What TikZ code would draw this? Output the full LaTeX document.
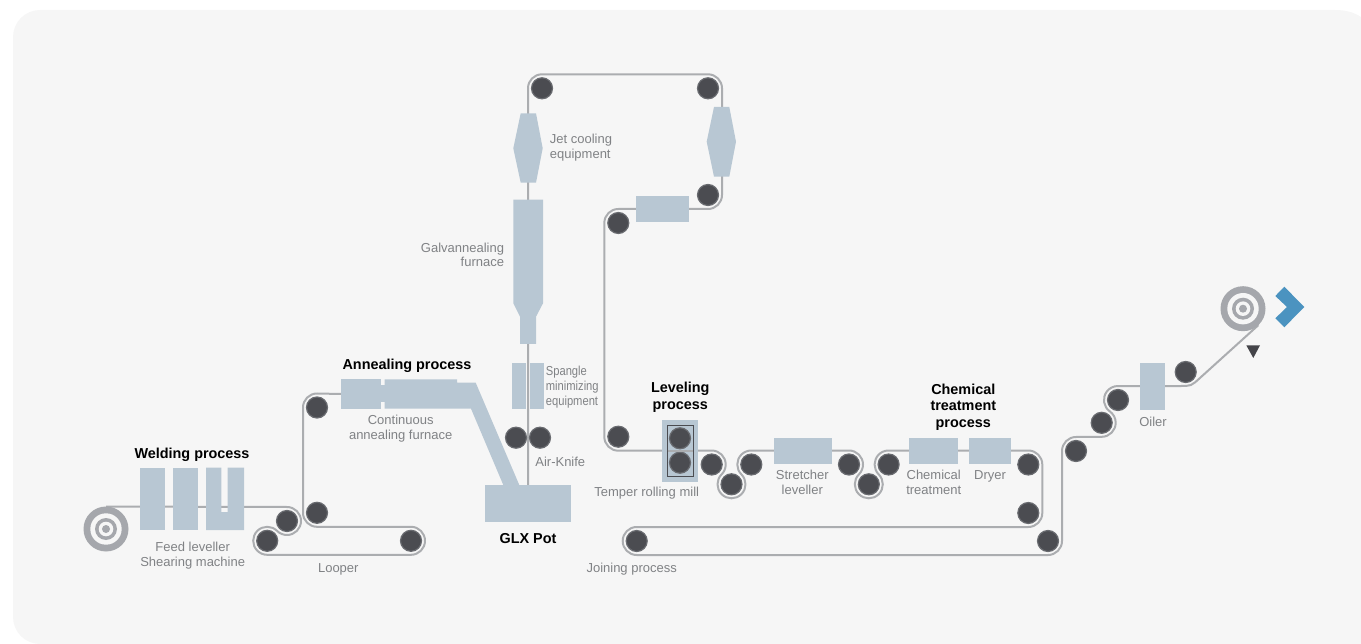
\documentclass[tikz,border=0pt]{standalone}
\usepackage{fontspec}
\setmainfont{Liberation Sans}
\usetikzlibrary{backgrounds}
\definecolor{panelcol}{HTML}{F6F6F6}
\definecolor{unitcol}{HTML}{B8C7D3}
\definecolor{stripcol}{HTML}{ABADB0}
\definecolor{rollcol}{HTML}{4B4C51}
\definecolor{ringcol}{HTML}{696B70}
\definecolor{coilcol}{HTML}{A5A7AC}
\definecolor{textcol}{HTML}{808285}
\definecolor{nextcol}{HTML}{4B93C0}
\tikzset{
  unit/.style={fill=unitcol,inner sep=0pt,outer sep=0pt},
  roller/.style={circle,fill=rollcol,draw=ringcol,line width=1.2pt,minimum size=21pt,inner sep=0pt,outer sep=3.5pt},
  coil/.style={circle,fill=coilcol,minimum size=45pt,inner sep=0pt,outer sep=0pt},
  strip/.style={draw=stripcol,line width=2pt,radius=14pt,line join=round},
  caption/.style={text=textcol,inner sep=0pt,yshift=-1.5pt,align=center,font=\fontsize{13}{14.8}\selectfont},
  heading/.style={text=black,inner sep=0pt,yshift=-1.5pt,align=center,font=\fontsize{14.4}{16.2}\selectfont\bfseries}
}
\begin{document}
\begin{tikzpicture}[x=1pt,y=1pt]
  \useasboundingbox (0,0) rectangle (1361,-644);
  \begin{scope}[on background layer]
    \fill[panelcol] (13,-37) arc[start angle=180,end angle=90,radius=27] -- (1335,-10)
      .. controls (1347,-10) and (1355,-13) .. (1361,-17) -- (1361,-644) -- (40,-644)
      arc[start angle=270,end angle=180,radius=27] -- cycle;
  \end{scope}

  \node[coil] (coilin) at (106,-529) {};
  \node[coil] (coilout) at (1243,-308.7) {};
  \foreach \c in {coilin,coilout}{
    \foreach \r/\col in {15.7/panelcol,11/coilcol,7.3/panelcol,4/coilcol}{
      \fill[\col] (\c) circle (\r);
    };
  };

  \node[unit,minimum width=25,minimum height=62.3] (feed1) at (152.5,-498.9) {};
  \node[unit,minimum width=25,minimum height=62.3] (feed2) at (185.5,-498.9) {};
  \fill[unitcol] (206,-467.7) -- (221.3,-467.7) -- (221.3,-512) -- (227.5,-512)
    -- (227.5,-467.7) -- (244,-467.7) -- (244,-530) -- (206,-530) -- cycle;
  \node[unit,minimum width=40,minimum height=29.4] (anneal1) at (361,-394) {};
  \fill[unitcol] (381,-385) rectangle (384.5,-401.7);
  \fill[unitcol] (384.5,-379.3) -- (457,-379.3) -- (457,-382.7) -- (475.7,-382.7)
    -- (519.3,-485) -- (503.3,-485) -- (471,-408.7) -- (384.5,-408.7) -- cycle;
  \node[unit,minimum width=86,minimum height=36.7] (pot) at (528,-503.3) {};
  \node[unit,minimum width=13.7,minimum height=46] (spangle1) at (519.2,-386) {};
  \node[unit,minimum width=14,minimum height=46] (spangle2) at (537,-386) {};
  \fill[unitcol] (513.3,-199.7) -- (543,-199.7) -- (543,-303.3) -- (536,-316.7) -- (536,-344)
    -- (520,-344) -- (520,-316.7) -- (513.3,-303.3) -- cycle;
  \fill[unitcol] (520.7,-113.3) -- (536,-113.3) -- (542.7,-148.3) -- (536,-182.7)
    -- (520.7,-182.7) -- (513.3,-148.3) -- cycle;
  \fill[unitcol] (714,-107) -- (729.3,-107) -- (736,-141.7) -- (729.3,-176.7)
    -- (714,-176.7) -- (706.7,-141.7) -- cycle;
  \node[unit,minimum width=53,minimum height=25.7] (blower) at (662.5,-208.8) {};
  \node[unit,minimum width=36,minimum height=61.7] (millbox) at (680.3,-450.8) {};
  \node[draw=rollcol,line width=0.9pt,inner sep=0pt,outer sep=0pt,minimum width=25.6,minimum height=50.3] (mill) at (680.5,-450.8) {};
  \node[unit,minimum width=57.7,minimum height=25.7] (stretcher) at (803.2,-450.8) {};
  \node[unit,minimum width=48.7,minimum height=25.7] (chem) at (933.6,-450.8) {};
  \node[unit,minimum width=42,minimum height=25.7] (dryer) at (990.3,-450.8) {};
  \node[unit,minimum width=25,minimum height=46.7] (oiler) at (1152.8,-386.3) {};

  \foreach \name/\x/\y in {w1/287/521,w2/267.2/540.8,w3/411/540.8,w4/317/512.8,w5/317/407.5,
    knife1/516/437.7,knife2/540/437.7,r1/542/88.3,r2/708/88.3,r3/708/195,r4/618.3/223,
    r5/618.3/436.7,mill1/680/438.3,mill2/680/462.7,r6/711.7/464.5,r7/731.5/484.3,r8/751.3/464.5,
    r9/849/464.5,r10/868.8/484.3,r11/888.6/464.5,r12/1028.3/464.5,r13/1028.3/513,
    join/636.7/541,r14/1048/541,r15/1076/451,r16/1101.7/422.8,r17/1118/400,r18/1185.7/372}{
    \node[roller] (\name) at (\x,-\y) {};
  };

  \begin{scope}[on background layer]
    \draw[strip] (coilin.north) -- (w1.90) arc[start angle=90,end angle=-135]
      arc[start angle=45,end angle=270] -- (w3.270) arc[start angle=-90,end angle=90]
      -- (w4.270) arc[start angle=270,end angle=180] -- (w5.180) arc[start angle=180,end angle=90]
      -- (anneal1.west);
    \draw[strip] (pot.north) -- (r1.180) arc[start angle=180,end angle=90]
      -- (r2.90) arc[start angle=90,end angle=0] -- (r3.0) arc[start angle=0,end angle=-90]
      -- (r4.90) arc[start angle=90,end angle=180] -- (r5.180) arc[start angle=180,end angle=270]
      -- (r6.90) arc[start angle=90,end angle=-45] arc[start angle=135,end angle=405]
      arc[start angle=-135,end angle=-270] -- (r9.90) arc[start angle=90,end angle=-45]
      arc[start angle=135,end angle=405] arc[start angle=-135,end angle=-270]
      -- (r12.90) arc[start angle=90,end angle=0] -- (r13.0) arc[start angle=0,end angle=-90]
      -- (join.90) arc[start angle=90,end angle=270] -- (r14.270) arc[start angle=-90,end angle=0]
      -- (r15.180) arc[start angle=180,end angle=90] -- (r16.270) arc[start angle=-90,end angle=54.5]
      arc[start angle=-125.5,end angle=-270] -- (r18.270) arc[start angle=-90,end angle=-47]
      -- (coilout.-47);
  \end{scope}
  \draw[stripcol,line width=1.5pt] (mill.west) -- (mill.east);

  \fill[rollcol!90!black] (1246.3,-345.3) -- (1260,-345.3) -- (1253.3,-358) -- cycle;
  \fill[nextcol] (1284.3,-286.7) -- (1304.3,-307) -- (1284.3,-327.3) -- (1275.3,-318.3)
    -- (1287,-307) -- (1275.3,-296) -- cycle;

  \node[heading] (weldlabel) at (192,-453) {Welding process};
  \node[caption] (feedlabel) at (192.7,-554) {Feed leveller\\Shearing machine};
  \node[caption] (looplabel) at (338.3,-567.7) {Looper};
  \node[heading] (anneallabel) at (407,-364) {Annealing process};
  \node[caption] (furnlabel) at (400.7,-427.5) {Continuous\\annealing furnace};
  \node[caption,align=left,anchor=west] (jetlabel) at (549.7,-146.3) {Jet cooling\\equipment};
  \node[caption,align=right,anchor=east] (galvlabel) at (504.3,-253.3) {Galvannealing\\furnace};
  \node[caption,align=left,anchor=west,xscale=.86,transform shape] (spanglelabel) at (545.7,-385.5) {Spangle\\minimizing\\equipment};
  \node[caption] (knifelabel) at (560.3,-460.3) {Air-Knife};
  \node[heading] (potlabel) at (528,-537.3) {GLX Pot};
  \node[heading] (levellabel) at (680.3,-395.7) {Leveling\\process};
  \node[caption] (milllabel) at (646.7,-491.7) {Temper rolling mill};
  \node[caption] (joinlabel) at (631.7,-568) {Joining process};
  \node[caption] (stretchlabel) at (802.3,-480.8) {Stretcher\\leveller};
  \node[heading] (chemhead) at (963.3,-405.7) {Chemical\\treatment\\process};
  \node[caption] (chemlabel) at (933.7,-480.8) {Chemical\\treatment};
  \node[caption] (dryerlabel) at (990,-475) {Dryer};
  \node[caption] (oilerlabel) at (1153,-420.7) {Oiler};
\end{tikzpicture}
\end{document}
